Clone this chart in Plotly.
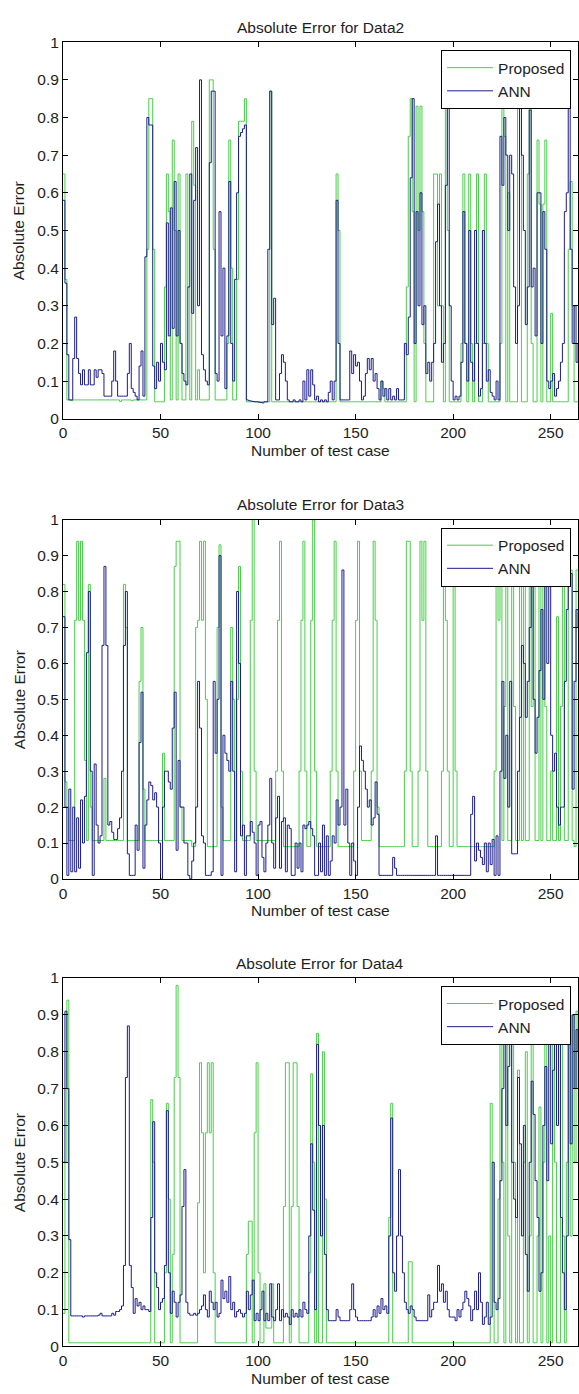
import plotly.graph_objects as go

# ---------------- data ----------------
# Data2 panel
prop2 = [
    0.65, 0.37, 0.05, 0.05, 0.048, 0.05, 0.05, 0.05, 0.05, 0.05,
    0.05, 0.05, 0.05, 0.05, 0.05, 0.05, 0.05, 0.05, 0.05, 0.05,
    0.05, 0.05, 0.05, 0.05, 0.05, 0.05, 0.05, 0.05, 0.05, 0.046,
    0.05, 0.05, 0.05, 0.05, 0.05, 0.048, 0.05, 0.05, 0.05, 0.05,
    0.05, 0.05, 0.05, 0.45, 0.85, 0.85, 0.45, 0.045, 0.045, 0.045,
    0.045, 0.045, 0.35, 0.65, 0.55, 0.05, 0.74, 0.50, 0.05, 0.65,
    0.20, 0.05, 0.05, 0.65, 0.35, 0.05, 0.79, 0.62, 0.05, 0.13,
    0.05, 0.05, 0.05, 0.05, 0.05, 0.90, 0.90, 0.45, 0.05, 0.05,
    0.05, 0.05, 0.05, 0.05, 0.20, 0.74, 0.40, 0.05, 0.05, 0.37,
    0.79, 0.79, 0.79, 0.85, 0.045, 0.045, 0.045, 0.045, 0.045, 0.045,
    0.045, 0.045, 0.045, 0.045, 0.045, 0.045, 0.87, 0.045, 0.045, 0.045,
    0.045, 0.045, 0.045, 0.045, 0.045, 0.045, 0.045, 0.045, 0.045, 0.045,
    0.045, 0.045, 0.045, 0.045, 0.045, 0.045, 0.045, 0.045, 0.045, 0.045,
    0.045, 0.045, 0.045, 0.045, 0.045, 0.045, 0.045, 0.045, 0.045, 0.045,
    0.65, 0.50, 0.045, 0.045, 0.045, 0.045, 0.045, 0.045, 0.045, 0.045,
    0.045, 0.045, 0.045, 0.045, 0.045, 0.045, 0.045, 0.045, 0.045, 0.045,
    0.045, 0.045, 0.045, 0.10, 0.08, 0.045, 0.045, 0.045, 0.045, 0.045,
    0.045, 0.045, 0.045, 0.045, 0.045, 0.045, 0.35, 0.75, 0.85, 0.55,
    0.045, 0.83, 0.50, 0.83, 0.55, 0.20, 0.045, 0.045, 0.045, 0.045,
    0.65, 0.65, 0.30, 0.65, 0.30, 0.045, 0.85, 0.50, 0.045, 0.045,
    0.045, 0.045, 0.045, 0.045, 0.20, 0.65, 0.20, 0.045, 0.65, 0.20,
    0.045, 0.20, 0.65, 0.045, 0.045, 0.20, 0.65, 0.20, 0.045, 0.045,
    0.045, 0.045, 0.045, 0.045, 0.20, 0.85, 0.75, 0.045, 0.60, 0.045,
    0.045, 0.045, 0.045, 0.85, 0.85, 0.045, 0.045, 0.045, 0.65, 0.85,
    0.20, 0.045, 0.045, 0.74, 0.57, 0.045, 0.57, 0.74, 0.045, 0.045,
    0.28, 0.045, 0.045, 0.045, 0.045, 0.045, 0.045, 0.045, 0.045, 0.45,
    0.63, 0.30, 0.045, 0.045, 0.045,
]
ann2 = [
    0.58, 0.36, 0.17, 0.05, 0.05, 0.16, 0.27, 0.16, 0.12, 0.09,
    0.13, 0.09, 0.09, 0.13, 0.09, 0.09, 0.13, 0.11, 0.13, 0.13,
    0.12, 0.06, 0.06, 0.06, 0.06, 0.10, 0.18, 0.10, 0.06, 0.06,
    0.06, 0.06, 0.06, 0.12, 0.20, 0.08, 0.07, 0.06, 0.05, 0.14,
    0.18, 0.06, 0.43, 0.80, 0.78, 0.78, 0.14, 0.08, 0.15, 0.10,
    0.20, 0.15, 0.13, 0.52, 0.22, 0.56, 0.24, 0.63, 0.22, 0.50,
    0.20, 0.12, 0.10, 0.09, 0.35, 0.65, 0.28, 0.58, 0.72, 0.30,
    0.90, 0.17, 0.13, 0.10, 0.09, 0.68, 0.87, 0.87, 0.12, 0.10,
    0.55, 0.22, 0.40, 0.08, 0.22, 0.63, 0.20, 0.10, 0.37, 0.60,
    0.75, 0.76, 0.77, 0.78, 0.05, 0.048, 0.047, 0.046, 0.045, 0.045,
    0.044, 0.043, 0.042, 0.045, 0.045, 0.45, 0.87, 0.25, 0.32, 0.05,
    0.05, 0.12, 0.17, 0.15, 0.10, 0.05, 0.045, 0.045, 0.05, 0.045,
    0.045, 0.05, 0.045, 0.10, 0.05, 0.13, 0.06, 0.13, 0.09, 0.05,
    0.06, 0.045, 0.05, 0.045, 0.05, 0.045, 0.07, 0.10, 0.05, 0.10,
    0.58, 0.20, 0.05, 0.05, 0.05, 0.05, 0.05, 0.18, 0.12, 0.17,
    0.14, 0.15, 0.10, 0.05, 0.06, 0.12, 0.16, 0.13, 0.16, 0.10,
    0.12, 0.08, 0.05, 0.10, 0.06, 0.08, 0.05, 0.08, 0.05, 0.06,
    0.05, 0.08, 0.05, 0.05, 0.05, 0.20, 0.17, 0.27, 0.64, 0.85,
    0.20, 0.55, 0.30, 0.60, 0.25, 0.30, 0.12, 0.15, 0.10, 0.15,
    0.20, 0.47, 0.57, 0.30, 0.15, 0.20, 0.62, 0.88, 0.30, 0.10,
    0.05, 0.06, 0.05, 0.06, 0.15, 0.55, 0.20, 0.10, 0.50, 0.15,
    0.10, 0.50, 0.20, 0.06, 0.08, 0.50, 0.20, 0.10, 0.13, 0.07,
    0.06, 0.05, 0.10, 0.05, 0.75, 0.62, 0.80, 0.70, 0.50, 0.70,
    0.65, 0.35, 0.20, 0.30, 0.90, 0.70, 0.50, 0.25, 0.35, 0.82,
    0.35, 0.40, 0.22, 0.60, 0.60, 0.20, 0.55, 0.45, 0.10, 0.08,
    0.10, 0.12, 0.06, 0.08, 0.10, 0.15, 0.20, 0.55, 0.60, 0.85,
    0.45, 0.20, 0.30, 0.15, 0.20,
]

# Data3 panel
prop3 = [
    0.82, 0.27, 0.20, 0.107, 0.107, 0.107, 0.72, 0.94, 0.72, 0.94,
    0.72, 0.33, 0.107, 0.82, 0.20, 0.107, 0.107, 0.107, 0.107, 0.107,
    0.107, 0.28, 0.107, 0.107, 0.107, 0.107, 0.107, 0.107, 0.107, 0.107,
    0.107, 0.82, 0.70, 0.107, 0.107, 0.107, 0.107, 0.107, 0.107, 0.55,
    0.70, 0.25, 0.107, 0.107, 0.107, 0.107, 0.107, 0.107, 0.107, 0.107,
    0.107, 0.35, 0.107, 0.107, 0.107, 0.107, 0.107, 0.87, 0.94, 0.94,
    0.20, 0.107, 0.107, 0.107, 0.107, 0.107, 0.09, 0.09, 0.70, 0.72,
    0.94, 0.72, 0.94, 0.50, 0.09, 0.09, 0.09, 0.09, 0.09, 0.70,
    0.93, 0.20, 0.107, 0.107, 0.107, 0.107, 0.70, 0.50, 0.107, 0.50,
    0.87, 0.30, 0.107, 0.107, 0.107, 0.107, 0.72, 1.0, 0.30, 0.107,
    0.107, 0.107, 0.107, 0.107, 0.107, 0.107, 0.107, 0.107, 0.107, 0.30,
    0.72, 0.94, 0.30, 0.09, 0.09, 0.09, 0.09, 0.09, 0.09, 0.09,
    0.09, 0.30, 0.72, 0.94, 0.30, 0.09, 0.09, 0.72, 1.0, 0.30,
    0.09, 0.09, 0.09, 0.09, 0.09, 0.09, 0.09, 0.30, 0.72, 0.94,
    0.30, 0.09, 0.09, 0.09, 0.09, 0.09, 0.09, 0.09, 0.09, 0.30,
    0.72, 0.94, 0.30, 0.107, 0.107, 0.107, 0.107, 0.107, 0.30, 0.94,
    0.72, 0.20, 0.09, 0.09, 0.09, 0.09, 0.09, 0.09, 0.09, 0.09,
    0.09, 0.09, 0.09, 0.09, 0.09, 0.30, 0.94, 0.94, 0.30, 0.09,
    0.09, 0.09, 0.30, 0.94, 0.72, 0.94, 0.30, 0.09, 0.09, 0.09,
    0.09, 0.09, 0.09, 0.09, 0.30, 0.94, 0.72, 0.30, 0.09, 0.09,
    0.94, 0.30, 0.09, 0.09, 0.09, 0.09, 0.09, 0.09, 0.09, 0.09,
    0.09, 0.09, 0.09, 0.09, 0.09, 0.09, 0.09, 0.09, 0.09, 0.09,
    0.09, 0.30, 0.94, 0.72, 0.86, 0.107, 0.48, 0.86, 0.107, 0.107,
    0.86, 0.48, 0.107, 0.107, 0.86, 0.107, 0.86, 0.107, 0.107, 0.86,
    0.48, 0.86, 0.107, 0.107, 0.86, 0.107, 0.86, 0.48, 0.107, 0.107,
    0.30, 0.107, 0.107, 0.73, 0.107, 0.48, 0.86, 0.107, 0.107, 0.86,
    0.86, 0.107, 0.09, 0.86, 0.86,
]
ann3 = [
    0.73, 0.20, 0.01, 0.25, 0.02, 0.20, 0.02, 0.17, 0.03, 0.22,
    0.10, 0.23, 0.63, 0.80, 0.30, 0.01, 0.32, 0.15, 0.10, 0.12,
    0.65, 0.87, 0.65, 0.15, 0.16, 0.13, 0.11, 0.11, 0.14, 0.17,
    0.30, 0.65, 0.80, 0.07, 0.01, 0.01, 0.01, 0.15, 0.08, 0.38,
    0.52, 0.03, 0.15, 0.22, 0.27, 0.26, 0.22, 0.24, 0.20, 0.10,
    0.00, 0.20, 0.30, 0.30, 0.27, 0.25, 0.42, 0.52, 0.08, 0.33,
    0.20, 0.20, 0.10, 0.10, 0.01, 0.00, 0.05, 0.10, 0.20, 0.55,
    0.42, 0.12, 0.10, 0.01, 0.01, 0.01, 0.02, 0.55, 0.35, 0.50,
    0.90, 0.01, 0.40, 0.35, 0.33, 0.30, 0.55, 0.30, 0.02, 0.80,
    0.60, 0.12, 0.15, 0.01, 0.12, 0.12, 0.16, 0.13, 0.10, 0.01,
    0.15, 0.16, 0.06, 0.02, 0.10, 0.15, 0.28, 0.10, 0.03, 0.17,
    0.23, 0.03, 0.16, 0.17, 0.02, 0.15, 0.14, 0.01, 0.01, 0.10,
    0.03, 0.10, 0.02, 0.15, 0.14, 0.15, 0.16, 0.14, 0.12, 0.01,
    0.01, 0.10, 0.02, 0.15, 0.01, 0.12, 0.01, 0.05, 0.12, 0.10,
    0.22, 0.15, 0.20, 0.86, 0.15, 0.25, 0.10, 0.01, 0.10, 0.05,
    0.01, 0.20, 0.37, 0.33, 0.30, 0.25, 0.20, 0.22, 0.15, 0.17,
    0.27, 0.18, 0.01, 0.01, 0.01, 0.01, 0.01, 0.01, 0.01, 0.06,
    0.03, 0.01, 0.01, 0.01, 0.01, 0.01, 0.01, 0.01, 0.01, 0.01,
    0.01, 0.01, 0.01, 0.01, 0.01, 0.01, 0.01, 0.01, 0.01, 0.01,
    0.01, 0.12, 0.01, 0.01, 0.01, 0.01, 0.01, 0.01, 0.01, 0.01,
    0.01, 0.01, 0.01, 0.01, 0.01, 0.01, 0.01, 0.01, 0.01, 0.18,
    0.23, 0.05, 0.10, 0.08, 0.06, 0.04, 0.10, 0.02, 0.10, 0.04,
    0.11, 0.01, 0.12, 0.01, 0.30, 0.55, 0.28, 0.40, 0.20, 0.55,
    0.07, 0.07, 0.07, 0.30, 0.45, 0.65, 0.60, 0.45, 0.55, 0.70,
    0.85, 0.50, 0.35, 0.45, 0.58, 0.75, 0.50, 0.90, 0.60, 0.85,
    0.40, 0.30, 0.35, 0.20, 0.15, 0.20, 0.20, 0.55, 0.75, 0.90,
    0.85, 0.25, 0.55, 0.75, 0.70,
]

# Data4 panel
prop4 = [
    0.09, 0.50, 0.94, 0.01, 0.01, 0.01, 0.01, 0.01, 0.01, 0.01,
    0.01, 0.01, 0.01, 0.01, 0.01, 0.01, 0.01, 0.01, 0.01, 0.01,
    0.01, 0.01, 0.01, 0.01, 0.01, 0.01, 0.01, 0.01, 0.01, 0.01,
    0.01, 0.01, 0.01, 0.01, 0.01, 0.01, 0.01, 0.01, 0.01, 0.01,
    0.01, 0.01, 0.01, 0.01, 0.01, 0.67, 0.50, 0.01, 0.01, 0.01,
    0.01, 0.01, 0.20, 0.66, 0.40, 0.01, 0.25, 0.73, 0.98, 0.73,
    0.01, 0.01, 0.01, 0.01, 0.01, 0.01, 0.01, 0.01, 0.01, 0.39,
    0.77, 0.58, 0.20, 0.58, 0.77, 0.58, 0.77, 0.20, 0.01, 0.01,
    0.01, 0.01, 0.01, 0.01, 0.01, 0.01, 0.01, 0.01, 0.01, 0.01,
    0.01, 0.01, 0.01, 0.01, 0.25, 0.34, 0.34, 0.01, 0.58, 0.77,
    0.20, 0.01, 0.01, 0.17, 0.05, 0.05, 0.05, 0.17, 0.01, 0.01,
    0.01, 0.01, 0.01, 0.38, 0.77, 0.77, 0.01, 0.38, 0.77, 0.77,
    0.38, 0.01, 0.01, 0.01, 0.01, 0.01, 0.20, 0.74, 0.50, 0.01,
    0.85, 0.01, 0.01, 0.80, 0.40, 0.01, 0.01, 0.01, 0.01, 0.01,
    0.01, 0.01, 0.01, 0.01, 0.01, 0.01, 0.01, 0.01, 0.01, 0.01,
    0.01, 0.01, 0.01, 0.01, 0.01, 0.01, 0.01, 0.01, 0.01, 0.01,
    0.01, 0.01, 0.01, 0.01, 0.01, 0.01, 0.01, 0.35, 0.66, 0.01,
    0.01, 0.01, 0.01, 0.01, 0.01, 0.01, 0.01, 0.23, 0.23, 0.01,
    0.01, 0.01, 0.01, 0.01, 0.01, 0.01, 0.01, 0.01, 0.01, 0.01,
    0.01, 0.01, 0.01, 0.01, 0.01, 0.01, 0.01, 0.01, 0.01, 0.01,
    0.01, 0.01, 0.01, 0.01, 0.01, 0.01, 0.01, 0.01, 0.01, 0.01,
    0.01, 0.01, 0.01, 0.01, 0.01, 0.01, 0.01, 0.01, 0.01, 0.66,
    0.50, 0.01, 0.01, 0.40, 0.85, 0.50, 0.01, 0.86, 0.30, 0.01,
    0.85, 0.50, 0.01, 0.75, 0.01, 0.01, 0.50, 0.80, 0.01, 0.30,
    0.85, 0.01, 0.01, 0.30, 0.65, 0.01, 0.50, 0.90, 0.01, 0.30,
    0.01, 0.87, 0.50, 0.01, 0.01, 0.86, 0.30, 0.01, 0.50, 0.87,
    0.30, 0.90, 0.50, 0.91, 0.70,
]
ann4 = [
    0.50, 0.91, 0.70, 0.29, 0.083, 0.083, 0.083, 0.083, 0.083, 0.083,
    0.08, 0.083, 0.083, 0.083, 0.083, 0.083, 0.083, 0.083, 0.085, 0.09,
    0.083, 0.083, 0.083, 0.083, 0.083, 0.09, 0.085, 0.095, 0.095, 0.10,
    0.11, 0.22, 0.73, 0.87, 0.22, 0.16, 0.09, 0.13, 0.11, 0.12,
    0.10, 0.11, 0.10, 0.10, 0.095, 0.35, 0.61, 0.20, 0.16, 0.10,
    0.12, 0.13, 0.22, 0.64, 0.20, 0.09, 0.15, 0.12, 0.08, 0.12,
    0.14, 0.38, 0.48, 0.12, 0.09, 0.085, 0.085, 0.09, 0.085, 0.09,
    0.10, 0.11, 0.14, 0.10, 0.08, 0.15, 0.12, 0.10, 0.12, 0.08,
    0.09, 0.18, 0.13, 0.15, 0.12, 0.19, 0.10, 0.12, 0.08, 0.095,
    0.10, 0.09, 0.08, 0.09, 0.15, 0.10, 0.14, 0.18, 0.07, 0.09,
    0.07, 0.10, 0.15, 0.07, 0.09, 0.07, 0.17, 0.08, 0.07, 0.10,
    0.17, 0.07, 0.10, 0.08, 0.09, 0.08, 0.06, 0.10, 0.08, 0.09,
    0.08, 0.10, 0.08, 0.12, 0.10, 0.09, 0.30, 0.55, 0.37, 0.10,
    0.82, 0.60, 0.30, 0.60, 0.25, 0.10, 0.07, 0.07, 0.07, 0.07,
    0.10, 0.08, 0.07, 0.07, 0.07, 0.07, 0.07, 0.10, 0.17, 0.10,
    0.08, 0.07, 0.07, 0.07, 0.07, 0.07, 0.07, 0.07, 0.08, 0.10,
    0.08, 0.11, 0.09, 0.13, 0.10, 0.11, 0.09, 0.30, 0.62, 0.20,
    0.15, 0.30, 0.48, 0.30, 0.20, 0.12, 0.10, 0.09, 0.11, 0.10,
    0.08, 0.07, 0.07, 0.07, 0.07, 0.07, 0.07, 0.14, 0.08, 0.10,
    0.12, 0.12, 0.22, 0.15, 0.17, 0.12, 0.15, 0.10, 0.08, 0.08,
    0.08, 0.07, 0.10, 0.08, 0.10, 0.12, 0.15, 0.13, 0.11, 0.07,
    0.10, 0.15, 0.10, 0.20, 0.12, 0.06, 0.08, 0.12, 0.06, 0.08,
    0.50, 0.12, 0.10, 0.13, 0.45, 0.70, 0.82, 0.60, 0.76, 0.83,
    0.50, 0.40, 0.35, 0.73, 0.55, 0.30, 0.60, 0.25, 0.15, 0.50,
    0.72, 0.63, 0.45, 0.35, 0.15, 0.20, 0.60, 0.76, 0.45, 0.85,
    0.55, 0.75, 0.85, 0.60, 0.86, 0.35, 0.20, 0.10, 0.30, 0.85,
    0.55, 0.90, 0.70, 0.86, 0.80,
]

titles = ["Absolute Error for Data2", "Absolute Error for Data3", "Absolute Error for Data4"]
series_names = ["Proposed", "ANN"]
x_ticks = [0, 50, 100, 150, 200, 250]
y_ticks = [0, 0.1, 0.2, 0.3, 0.4, 0.5, 0.6, 0.7, 0.8, 0.9, 1]
y_tick_text = ["0", "0.1", "0.2", "0.3", "0.4", "0.5", "0.6", "0.7", "0.8", "0.9", "1"]
x_title = "Number of test case"
y_title = "Absolute Error"

# ---------------- layout geometry (pixels) ----------------
W, H = 579, 1394
LEFT = 59.5
panels_px = [(33.6, 414.8), (517.0, 880.7), (981.0, 1354.0)]  # (top, bottom)
GREEN = "#48cf48"
BLUE = "#1c1c8c"
FONT = "Liberation Sans, Arial, sans-serif"
FS = 15.5
TXT = "#1e1e1e"


def py(p):
    return 1 - p / H


def px(p):
    return p / W


fig = go.Figure()
data = [(prop2, ann2), (prop3, ann3), (prop4, ann4)]
annotations = []
for i, ((prop, ann), (top, bot)) in enumerate(zip(data, panels_px)):
    k = "" if i == 0 else str(i + 1)
    lg = "legend" if i == 0 else "legend" + str(i + 1)
    fig.add_trace(go.Scatter(x=list(range(len(prop))), y=prop, mode="lines", name=series_names[0],
                             line=dict(color=GREEN, width=1, shape="hv"), xaxis="x" + k, yaxis="y" + k,
                             legend=lg, hoverinfo="skip"))
    fig.add_trace(go.Scatter(x=list(range(len(ann))), y=ann, mode="lines", name=series_names[1],
                             line=dict(color=BLUE, width=1, shape="hv"), xaxis="x" + k, yaxis="y" + k,
                             legend=lg, hoverinfo="skip"))
    axcommon = dict(showline=True, linecolor="black", linewidth=1, mirror="ticks",
                    ticks="inside", ticklen=5, tickcolor="black", showgrid=False, zeroline=False,
                    tickfont=dict(family=FONT, size=FS, color=TXT), fixedrange=True)
    fig.layout["xaxis" + k] = dict(domain=[px(LEFT), 1.0], range=[0, 264], anchor="y" + k,
                                   tickvals=x_ticks, **axcommon)
    fig.layout["yaxis" + k] = dict(domain=[py(bot), py(top)], range=[0, 1], anchor="x" + k,
                                   tickvals=y_ticks, ticktext=y_tick_text, **axcommon)
    fig.layout[lg] = dict(x=px(572), xanchor="right", y=py(top + 8), yanchor="top",
                          bordercolor="black", borderwidth=1, bgcolor="white",
                          font=dict(family=FONT, size=FS, color=TXT), itemwidth=46,
                          tracegroupgap=0)
    cx = (LEFT + W) / 2
    annotations.append(dict(text=titles[i], x=px(cx), y=py(top - 15), xref="paper", yref="paper",
                            showarrow=False, xanchor="center", yanchor="middle",
                            font=dict(family=FONT, size=FS, color=TXT)))
    annotations.append(dict(text=x_title, x=px(cx), y=py(bot + 32), xref="paper", yref="paper",
                            showarrow=False, xanchor="center", yanchor="middle",
                            font=dict(family=FONT, size=FS, color=TXT)))
    annotations.append(dict(text=y_title, x=px(15), y=py((top + bot) / 2), xref="paper", yref="paper",
                            showarrow=False, xanchor="center", yanchor="middle", textangle=-90,
                            font=dict(family=FONT, size=FS, color=TXT)))

fig.update_layout(width=W, height=H, margin=dict(l=0, r=0, t=0, b=0),
                  paper_bgcolor="white", plot_bgcolor="white", annotations=annotations,
                  showlegend=True)
fig.write_html("out.html")
